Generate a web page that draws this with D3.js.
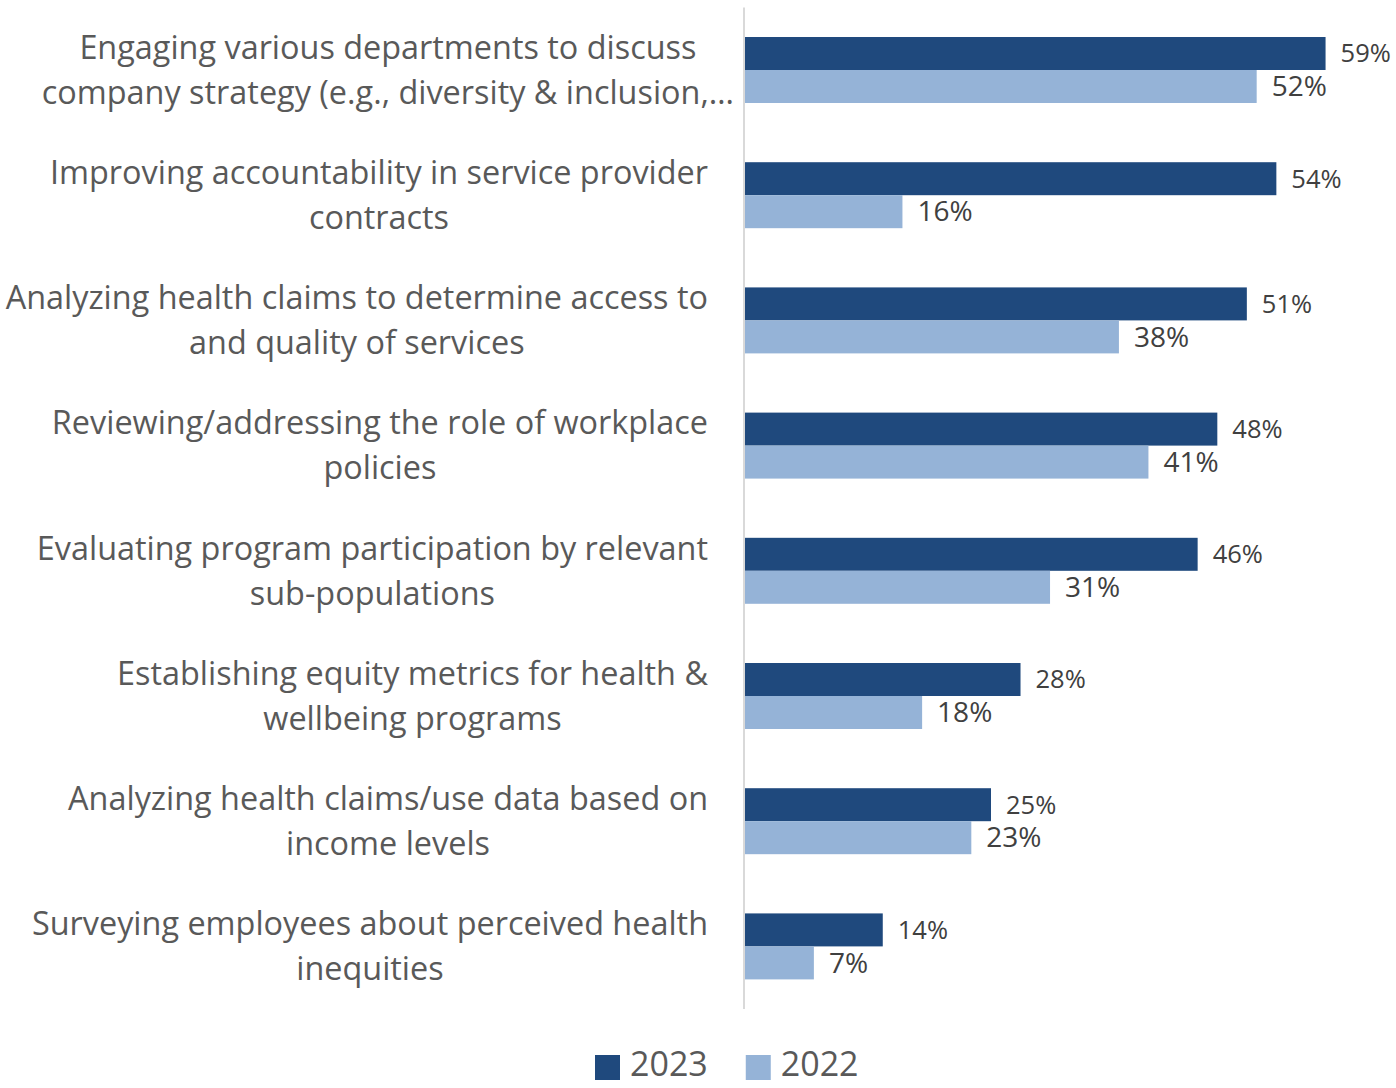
<!DOCTYPE html>
<html>
<head>
<meta charset="utf-8">
<script src="https://cdn.jsdelivr.net/npm/d3@7"></script>
<style>
  html, body { margin: 0; padding: 0; background: #fff; }
  svg { display: block; }
  text { font-family: "Open Sans", "Liberation Sans", sans-serif; }
</style>
</head>
<body>
<svg id="chart" width="1396" height="1088"></svg>
<script>
// Initiatives (each label split into its two display lines)
const categories = [
  ["Engaging various departments to discuss", "company strategy (e.g., diversity & inclusion,…"],
  ["Improving accountability in service provider", "contracts"],
  ["Analyzing health claims to determine access to", "and quality of services"],
  ["Reviewing/addressing the role of workplace", "policies"],
  ["Evaluating program participation by relevant", "sub-populations"],
  ["Establishing equity metrics for health &", "wellbeing programs"],
  ["Analyzing health claims/use data based on", "income levels"],
  ["Surveying employees about perceived health", "inequities"]
];
const seriesNames = ["2023", "2022"];
const values2023 = [59, 54, 51, 48, 46, 28, 25, 14];
const values2022 = [52, 16, 38, 41, 31, 18, 23, 7];

const colors = { "2023": "#1F497D", "2022": "#95B3D7" };

const svg = d3.select("#chart");
const keys = categories.map((c, i) => "c" + i);

const x = d3.scaleLinear().domain([0, 60]).range([745, 745 + 590.4]);
const y = d3.scaleBand().domain(keys).range([7.4, 1009]).paddingInner(0.473).paddingOuter(0.2365);
const ySub = d3.scaleBand().domain(seriesNames).range([0, y.bandwidth()]);

const rows = keys.map((k, i) => ({
  key: k,
  lines: categories[i],
  vals: [{ s: "2023", v: values2023[i] }, { s: "2022", v: values2022[i] }]
}));

// vertical category axis line
svg.append("line")
  .attr("x1", 744).attr("x2", 744)
  .attr("y1", y.range()[0]).attr("y2", y.range()[1])
  .attr("stroke", "#D9D9D9").attr("stroke-width", 2);

const groups = svg.selectAll("g.group").data(rows).join("g")
  .attr("class", "group")
  .attr("transform", d => `translate(0,${y(d.key)})`);

groups.selectAll("rect").data(d => d.vals).join("rect")
  .attr("x", x(0))
  .attr("y", d => ySub(d.s))
  .attr("height", ySub.bandwidth())
  .attr("width", d => x(d.v) - x(0))
  .attr("fill", d => colors[d.s]);

// value labels
groups.selectAll("text.val").data(d => d.vals).join("text")
  .attr("class", "val")
  .attr("x", d => x(d.v) + 15)
  .attr("y", d => ySub(d.s) + ySub.bandwidth() / 2)
  .attr("dy", "0.35em")
  .attr("fill", "#404040")
  .attr("font-size", d => d.s === "2023" ? 25.5 : 28)
  .text(d => d.v + "%");

// category labels: block right-aligned, each line centred inside the block
const labelRight = 708;
const lineGap = 45;
groups.each(function(d, i) {
  const g = d3.select(this);
  const cy = y.bandwidth() / 2;
  const texts = d.lines.map((ln, j) => g.append("text")
    .attr("class", "cat")
    .attr("font-size", 32.4)
    .attr("fill", "#595959")
    .attr("text-anchor", "middle")
    .attr("y", cy + (j - (d.lines.length - 1) / 2) * lineGap)
    .attr("dy", "0.35em")
    .text(ln));
  const widths = texts.map(t => t.node().getComputedTextLength());
  const w = d3.max(widths);
  const right = i === 0 ? 734 : labelRight;
  texts.forEach(t => t.attr("x", right - w / 2));
});

// legend
const legend = svg.append("g").attr("transform", "translate(595,1064)");
let lx = 0;
seriesNames.forEach(s => {
  const item = legend.append("g").attr("transform", `translate(${lx},0)`);
  item.append("rect").attr("x", 0).attr("y", -9).attr("width", 25).attr("height", 25).attr("fill", colors[s]);
  const t = item.append("text").attr("x", 35).attr("y", 0).attr("dy", "0.35em")
    .attr("font-size", 34).attr("fill", "#595959").text(s);
  lx += 35 + t.node().getComputedTextLength() + 38;
});
</script>
</body>
</html>
